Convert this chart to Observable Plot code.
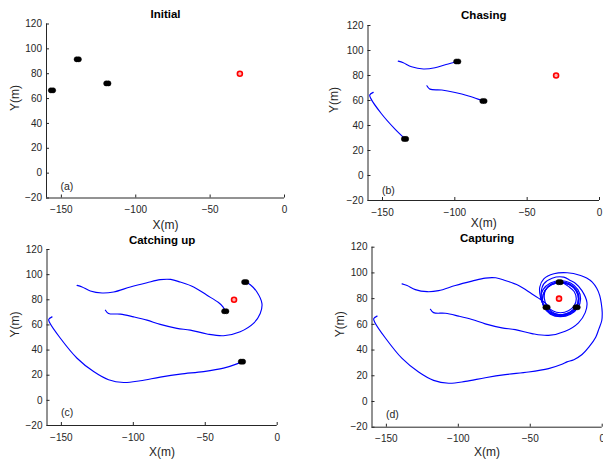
<!DOCTYPE html>
<html><head><meta charset="utf-8">
<script src="https://cdn.jsdelivr.net/npm/d3@7"></script>
<script src="https://cdn.jsdelivr.net/npm/@observablehq/plot@0.6"></script>
<style>
body{margin:0;background:#fff;}
#wrap{position:relative;width:603px;height:462px;overflow:hidden;}
.panel{position:absolute;}
</style></head><body><div id="wrap"></div>
<script>
// ---- data ----
const xTicks = [-150, -100, -50, 0];
const yTicks = [-20, 0, 20, 40, 60, 80, 100, 120];
const titles = ["Initial", "Chasing", "Catching up", "Capturing"];
const tags = ["(a)", "(b)", "(c)", "(d)"];
const target = [[-30, 80]];
const initialPursuers = [[-156.3, 66.6], [-139, 91.6], [-119.1, 72.2]];

const chaseA = [[-139.1,91.5],[-135.6,90.2],[-129.9,87],[-121.7,85.2],[-113.7,86.2],[-106,88.8],[-98.3,91.2]];
const chaseB = [[-119.3,71.8],[-117.2,69.1],[-109,68.4],[-99.8,66.4],[-90.5,63.6],[-82.4,60.5],[-80.2,59.6]];
const chaseC = [[-156.4,66.5],[-158.8,64.4],[-158.1,61.7],[-150.7,49.4],[-141.5,37.3],[-134.4,29.3]];

const catchA = [[-139.1,91.5],[-135.6,90.2],[-129.9,87],[-121.7,85.4],[-113.7,86.2],[-102.1,90.2],[-90.5,93.6],[-81.3,96],[-74,96.2],[-67.4,94.1],[-58.1,90.2],[-48.8,83.6],[-40.8,77.8],[-37.7,74.4],[-36.1,70.9]];
const catchB = [[-119.4,71.7],[-117.2,69.1],[-109,68.6],[-99.8,66.4],[-90.5,63.8],[-81.3,60.4],[-69.7,57.3],[-60.4,55.9],[-48.8,52.8],[-37.3,51.4],[-25.7,54.6],[-16.5,61.2],[-11.8,69.1],[-10.6,77],[-14.1,86.2],[-18.7,92],[-22.2,94.1]];
const catchC = [[-156.5,66.4],[-158.8,64.4],[-158.1,61.7],[-150.7,49.4],[-139.1,33.5],[-127.6,22.9],[-117.2,16.4],[-106.7,14.2],[-95.1,15.6],[-81.3,18.5],[-67.4,20.9],[-51.2,22.9],[-37.3,25.6],[-28,29],[-24.5,30.8]];

const captureA = catchA.concat([[-29,67.5],[-22.75,69.2],[-18.2,73.75],[-16.5,80],[-18.2,86.25],[-22.75,90.8],[-29,92.5],[-35.25,90.8],[-39.8,86.25],[-41.5,80],[-40.5,73.4],[-36,67.9],[-29,66],[-22,67.9],[-16.9,73],[-15,80],[-16.9,87],[-22,92.1],[-29,94],[-36,92.1],[-41.1,87],[-42.6,80.5],[-41.2,76.2],[-38.7,73.3]]);
const captureB = catchB.concat([[-26.7,96.7],[-34.8,95.9],[-40.6,91.5],[-42.4,85],[-42,78.5],[-40.3,73.5],[-35.5,68.7],[-29,67],[-22.5,68.7],[-17.7,73.5],[-16,80],[-17.7,86.5],[-22.5,91.3],[-29,93],[-35.5,91.3],[-39.6,86.2],[-40.2,80],[-38.5,74.5],[-34.5,70.5],[-29,69],[-23.5,70.5],[-19.5,74.5],[-18,80],[-19.5,85.5],[-23.5,89.5],[-26.8,91.9],[-29.6,92.8]]);
const captureC = catchC.concat([[-19.7,32.5],[-14,36.5],[-9.3,42.2],[-4.5,50],[-2.3,56.5],[-0.3,63],[0,69.5],[-0.6,76],[-1.7,82.4],[-3.8,88],[-6.9,92.8],[-10.8,96],[-15,98],[-24.3,100.1],[-33.6,99.3],[-40.6,95.4],[-43.4,88.9],[-42.9,81.1],[-40.5,74.5],[-35.25,69.2],[-29,67.5],[-22.75,69.2],[-18.2,73.75],[-16.5,80],[-18.2,86.25],[-22.75,90.8],[-29,92.5],[-35.25,90.8],[-39.8,86.25],[-41.5,80],[-40.1,73.3],[-35.75,68.3],[-29,66.5],[-22.25,68.3],[-18.6,71.3],[-17.8,73.3]]);

const panelPaths = [[], [chaseA, chaseB, chaseC], [catchA, catchB, catchC], [captureA, captureB, captureC]];

// ---- layout ----
const layouts = [
  {left:0,   top:0,   width:300, height:231, mL:46,   mR:16,  mT:23.5, mB:33.5, titleDy:-9.5, xlabDy:27.5, ylabDx:-31,   tagDy:-11},
  {left:300, top:0,   width:303, height:231, mL:67.5, mR:4,   mT:25,   mB:31,   titleDy:-10,  xlabDy:23,   ylabDx:-34,   tagDy:-10},
  {left:0,   top:231, width:300, height:231, mL:46.5, mR:23.3,mT:18,   mB:37,   titleDy:-9,   xlabDy:26.7, ylabDx:-31.5, tagDy:-12.5},
  {left:300, top:231, width:303, height:231, mL:71.5, mR:1.3, mT:15.7, mB:35.3, titleDy:-8.4, xlabDy:25.3, ylabDx:-31.5, tagDy:-12.4}
];

const axisColor = "#262626";
const font = "Liberation Sans, Arial, Helvetica, sans-serif";
const wrap = document.getElementById("wrap");

layouts.forEach((L, i) => {
  const paths = panelPaths[i];
  const pursuers = i === 0 ? initialPursuers : paths.map(p => p[p.length - 1]);
  const marks = [
    Plot.ruleX([-160], {stroke: axisColor, strokeWidth: 1}),
    Plot.ruleY([-20], {stroke: axisColor, strokeWidth: 1}),
    Plot.axisX(xTicks, {tickSize: -3, tickFormat: () => "", stroke: axisColor, label: null}),
    Plot.axisY(yTicks, {tickSize: -3, tickFormat: () => "", stroke: axisColor, label: null}),
    Plot.axisX(xTicks, {tickSize: 0, tickPadding: 8, fill: axisColor, fontSize: 10, label: null}),
    Plot.axisY(yTicks, {tickSize: 0, tickPadding: 4.5, fill: axisColor, fontSize: 10, label: null}),
    ...paths.map(p => Plot.line(p, {x: d => d[0], y: d => d[1], stroke: "#0000ff", strokeWidth: 1.15, curve: "catmull-rom"})),
    Plot.dot(pursuers, {x: d => d[0], y: d => d[1], r: 2.6, fill: "black", stroke: "black", strokeWidth: 0.5, dx: -1.1}),
    Plot.dot(pursuers, {x: d => d[0], y: d => d[1], r: 2.6, fill: "black", stroke: "black", strokeWidth: 0.5, dx: 1.1}),
    Plot.dot(target, {x: d => d[0], y: d => d[1], r: 2.5, fill: "#ffb3b3", stroke: "#ff0000", strokeWidth: 1.6}),
    Plot.text([titles[i]], {text: d => d, frameAnchor: "top", dy: L.titleDy, lineAnchor: "middle", fontWeight: "bold", fontSize: 11.5, fill: "#000"}),
    Plot.text(["X(m)"], {text: d => d, frameAnchor: "bottom", dy: L.xlabDy, lineAnchor: "middle", fontSize: 12, fill: axisColor}),
    Plot.text(["Y(m)"], {text: d => d, frameAnchor: "left", dx: L.ylabDx, rotate: -90, lineAnchor: "middle", fontSize: 12, fill: axisColor}),
    Plot.text([tags[i]], {text: d => d, frameAnchor: "bottom-left", dx: 14, dy: L.tagDy, textAnchor: "start", lineAnchor: "middle", fontSize: 10.5, fill: axisColor})
  ];
  const svg = Plot.plot({
    width: L.width, height: L.height,
    marginLeft: L.mL, marginRight: L.mR, marginTop: L.mT, marginBottom: L.mB,
    x: {domain: [-160, 0]},
    y: {domain: [-20, 120]},
    style: {fontFamily: font, fontSize: "10px", background: "transparent", overflow: "visible"},
    marks
  });
  svg.classList.add("panel");
  svg.style.left = L.left + "px";
  svg.style.top = L.top + "px";
  svg.style.position = "absolute";
  wrap.appendChild(svg);
});
</script>
</body></html>
